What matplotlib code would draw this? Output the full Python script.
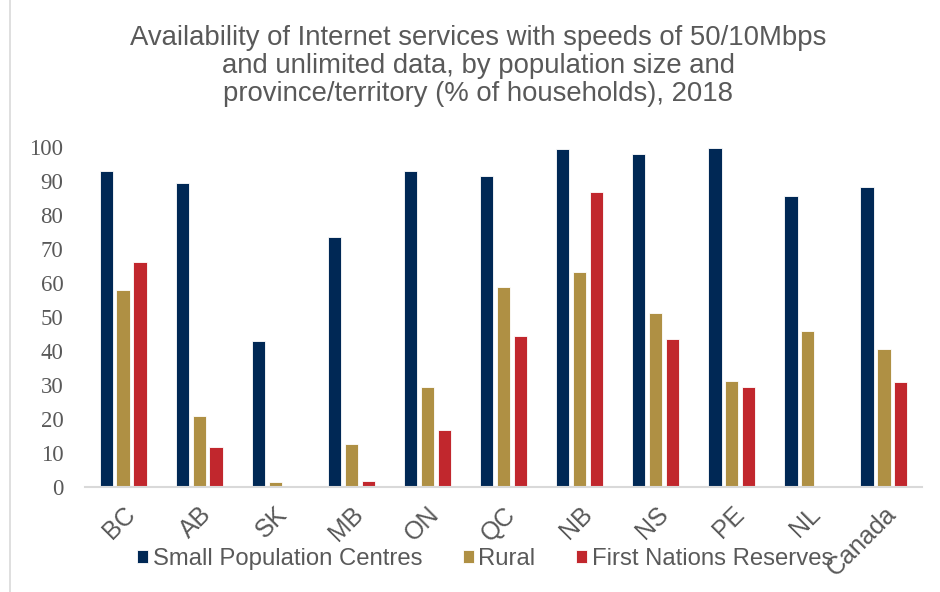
import numpy as np
import matplotlib.pyplot as plt

# data (% of households)
regions = ["BC", "AB", "SK", "MB", "ON", "QC", "NB", "NS", "PE", "NL", "Canada"]
small_centres = [93.0, 89.5, 42.8, 73.4, 92.8, 91.6, 99.4, 97.9, 99.6, 85.5, 88.3]
rural = [58.0, 20.9, 1.5, 12.6, 29.3, 58.8, 63.1, 51.3, 31.2, 45.8, 40.5]
first_nations = [66.3, 11.8, 0.0, 1.7, 16.7, 44.3, 86.9, 43.5, 29.4, 0.0, 31.0]
series_names = ["Small Population Centres", "Rural", "First Nations Reserves"]
yticks = list(range(0, 101, 10))

colors = ["#002855", "#AF9044", "#C1272D"]
grey = "#595959"

fig = plt.figure(figsize=(9.4, 5.92), dpi=100)
ax = fig.add_axes([85 / 940, 1 - 487 / 592, (922 - 85) / 940, (487 - 147) / 592])

x = np.arange(len(regions))
width = 0.174
pitch = 0.222
for i, (vals, name) in enumerate(zip([small_centres, rural, first_nations], series_names)):
    ax.bar(x + (i - 1) * pitch, vals, width, color=colors[i], label=name,
           edgecolor="white", linewidth=0.6)

ax.set_xlim(-0.5, len(regions) - 0.5)
ax.set_ylim(0, 100)
ax.set_yticks(yticks)
ax.set_yticklabels([str(t) for t in yticks], family="Liberation Serif",
                   fontsize=16.5, color=grey)
ax.set_xticks(x)
ax.set_xticklabels(regions, rotation=45, ha="right", rotation_mode="anchor",
                   family="Liberation Sans", fontsize=18, color=grey)
ax.tick_params(axis="y", length=0, pad=15.5)
ax.tick_params(axis="x", length=0, pad=11)
for s in ["top", "right", "left"]:
    ax.spines[s].set_visible(False)
ax.spines["bottom"].set_color("#d9d9d9")
ax.spines["bottom"].set_linewidth(1.5)

fig.text(478 / 940, 1 - 66 / 592,
         "Availability of Internet services with speeds of 50/10Mbps\n"
         "and unlimited data, by population size and\n"
         "province/territory (% of households), 2018",
         ha="center", va="center", fontsize=19.8, color=grey,
         family="Liberation Sans", linespacing=1.1)

leg = fig.legend(loc="center", bbox_to_anchor=(485 / 940, 1 - 559 / 592), ncol=3,
                 frameon=False, handlelength=0.46, handleheight=0.46,
                 handletextpad=0.19, columnspacing=1.7, borderpad=0,
                 prop={"family": "Liberation Sans", "size": 17.2})
for t in leg.get_texts():
    t.set_color(grey)

# chart area border on the left
fig.add_artist(plt.Line2D([10 / 940, 10 / 940], [0, 1], color="#d9d9d9", linewidth=1.2))

fig.savefig("out.png", dpi=100)
